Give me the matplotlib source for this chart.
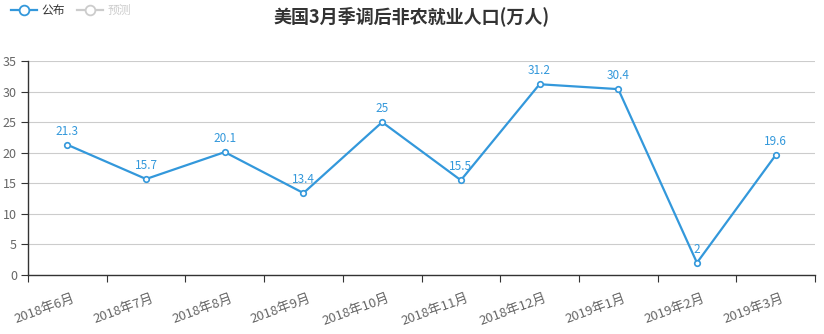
import matplotlib
matplotlib.use("Agg")
import matplotlib.pyplot as plt
import matplotlib.transforms as mtransforms
from matplotlib.lines import Line2D
import numpy as np

plt.rcParams['font.family'] = ['Noto Sans CJK SC', 'DejaVu Sans']

months = ["2018年6月", "2018年7月", "2018年8月", "2018年9月", "2018年10月",
          "2018年11月", "2018年12月", "2019年1月", "2019年2月", "2019年3月"]
published = [21.3, 15.7, 20.1, 13.4, 25, 15.5, 31.2, 30.4, 2, 19.6]
forecast = []
title = "美国3月季调后非农就业人口(万人)"

blue = "#3398DB"
fig = plt.figure(figsize=(8.24, 3.34), dpi=100)
ax = fig.add_axes([28/824, 1-275/334, (815-28)/824, (275-61)/334])

x = np.arange(len(months))
ax.plot(x, published, color=blue, lw=1.6, marker='o', ms=4,
        mfc='white', mec=blue, mew=1.2, zorder=3)
for xi, v in zip(x, published):
    ax.annotate(f"{v:g}", (xi, v), xytext=(0, 5), textcoords='offset points',
                ha='center', va='bottom', color=blue, fontsize=8.5)

ax.set_xlim(-0.5, len(months) - 0.5)
ax.set_ylim(0, 35)
ax.set_yticks(np.arange(0, 36, 5))
ax.set_xticks(np.arange(-0.5, len(months), 1))
ax.set_xticklabels([])
ax.set_xticks(x, minor=True)
ax.set_xticklabels(months, minor=True, rotation=20, ha='right', va='top',
                   rotation_mode='anchor', color='#666666', fontsize=9.5)
ax.tick_params(axis='x', which='minor', length=0, pad=12)
ax.tick_params(axis='x', which='major', length=5, color='#333333')
ax.tick_params(axis='y', length=5, color='#333333', labelcolor='#666666',
               labelsize=9, pad=3)
ax.grid(axis='y', color='#cccccc', lw=0.8)
ax.set_axisbelow(True)
for s in ['top', 'right']:
    ax.spines[s].set_visible(False)
for s in ['left', 'bottom']:
    ax.spines[s].set_color('#333333')
    ax.spines[s].set_linewidth(1.0)

# month labels sit slightly to the right of each category centre
offset = mtransforms.ScaledTranslation(5/100, 0, fig.dpi_scale_trans)
for lbl in ax.get_xticklabels(minor=True):
    lbl.set_transform(lbl.get_transform() + offset)

fig.text(0.5, 1-16/334, title, ha='center', va='center',
         fontsize=13, fontweight='bold', color='#333333')

handles = [
    Line2D([], [], color=blue, lw=1.6, marker='o', ms=7, mfc='white', mec=blue, mew=1.3),
    Line2D(forecast, forecast, color='#cccccc', lw=1.6, marker='o', ms=7, mfc='white', mec='#cccccc', mew=1.3),
]
leg = fig.legend(handles, ["公布", "预测"], loc='upper left',
                 bbox_to_anchor=(0.0, 1.02), ncol=2, frameon=False,
                 fontsize=8.5, handlelength=2.2, handletextpad=0.4,
                 columnspacing=1.0)
leg.get_texts()[0].set_color('#333333')
leg.get_texts()[1].set_color('#cccccc')

fig.savefig("out.png", dpi=100)
